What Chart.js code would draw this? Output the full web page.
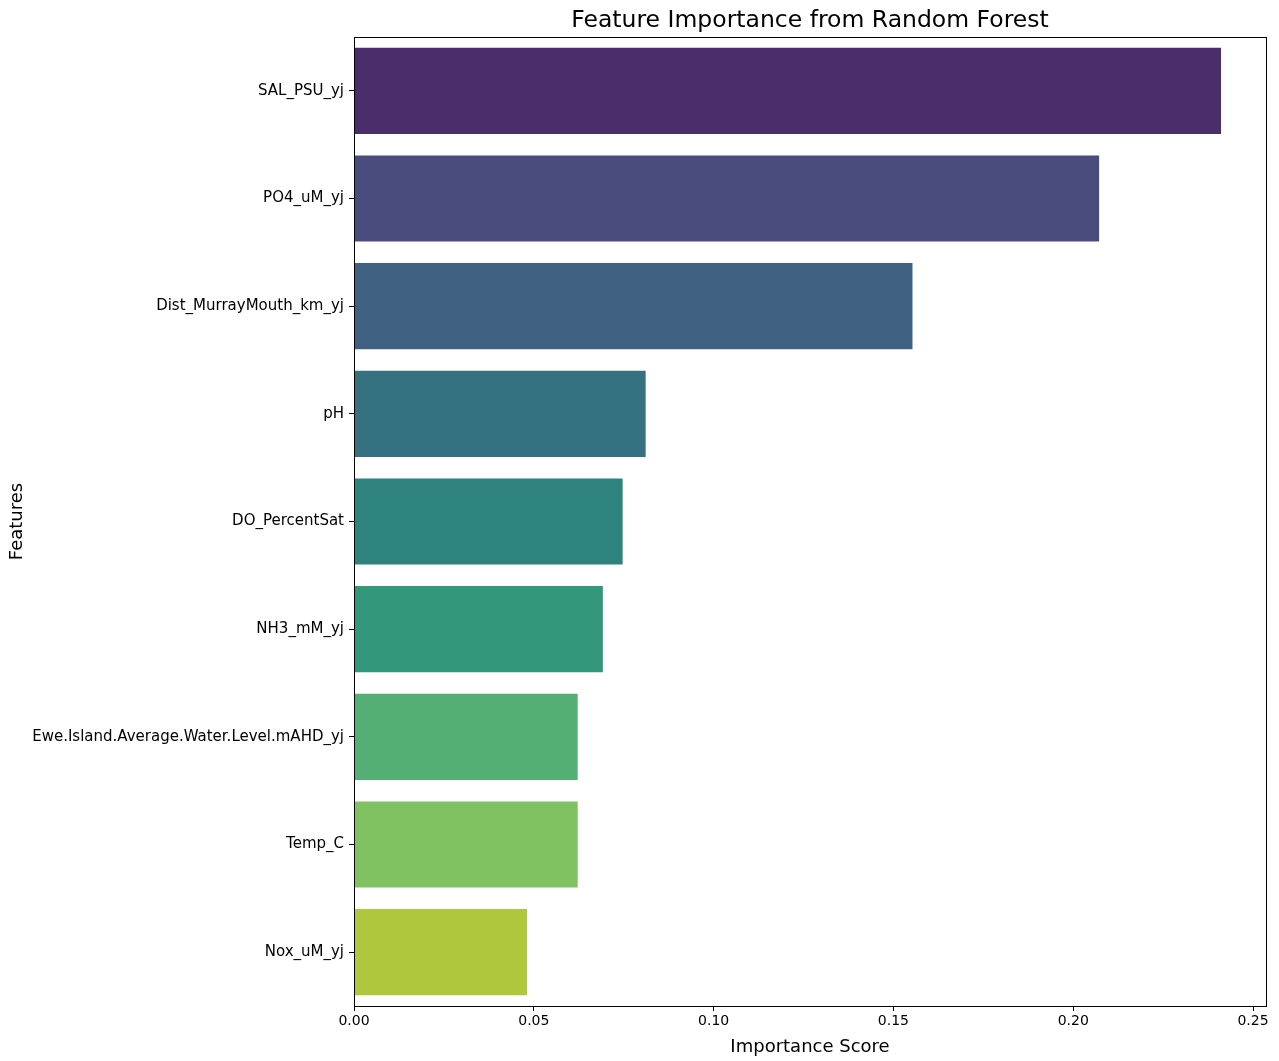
<!DOCTYPE html>
<html>
<head>
<meta charset="utf-8">
<title>Feature Importance</title>
<script src="https://cdn.jsdelivr.net/npm/chart.js@4"></script>
<style>
  html,body{margin:0;padding:0;background:#fff;}
  #wrap{width:1279px;height:1061px;}
</style>
</head>
<body>
<div id="wrap"><canvas id="chart" width="1279" height="1061"></canvas></div>
<script>
/* === DATA === */
const features = [
  "SAL_PSU_yj",
  "PO4_uM_yj",
  "Dist_MurrayMouth_km_yj",
  "pH",
  "DO_PercentSat",
  "NH3_mM_yj",
  "Ewe.Island.Average.Water.Level.mAHD_yj",
  "Temp_C",
  "Nox_uM_yj"
];
const importance = [0.2411, 0.2072, 0.1553, 0.0811, 0.0747, 0.0692, 0.0622, 0.0622, 0.0481];
const barColors = ["#492e6b","#4a4c7e","#406082","#367182","#2f837f","#33977c","#54af74","#80c161","#aec83d"];
const xTicks = [0, 0.05, 0.10, 0.15, 0.20, 0.25];

const FONT = "'DejaVu Sans', sans-serif";

/* === FRAME (all four spines) === */
const framePlugin = {
  id: "frame",
  afterDraw(chart){
    const a = chart.chartArea, ctx = chart.ctx;
    ctx.save();
    ctx.strokeStyle = "#000";
    ctx.lineWidth = 1;
    ctx.strokeRect(Math.round(a.left)+0.5, Math.round(a.top)+0.5,
                   Math.round(a.right-a.left), Math.round(a.bottom-a.top));
    ctx.restore();
  }
};

new Chart(document.getElementById("chart"), {
  type: "bar",
  data: {
    labels: features,
    datasets: [{
      data: importance,
      backgroundColor: barColors,
      borderWidth: 0,
      barPercentage: 0.8,
      categoryPercentage: 1.0
    }]
  },
  options: {
    indexAxis: "y",
    responsive: false,
    animation: false,
    layout: { padding: { left: 0, right: 13, top: 0, bottom: 0 } },
    plugins: {
      legend: { display: false },
      tooltip: { enabled: false }
    },
    scales: {
      x: {
        type: "linear",
        min: 0,
        max: 0.2536,
        afterBuildTicks(scale){ scale.ticks = xTicks.map(v => ({ value: v })); },
        afterFit(scale){ scale.height = 55; },
        grid: { drawOnChartArea: false, drawTicks: true, tickLength: 5, color: "#000" },
        border: { display: true, color: "#000" },
        ticks: {
          color: "#000",
          font: { family: FONT, size: 14 },
          padding: 2,
          callback: v => Number(v).toFixed(2)
        },
        title: {
          display: true,
          text: "Importance Score",
          color: "#000",
          font: { family: FONT, size: 18 },
          padding: { top: 0, bottom: 3 }
        }
      },
      // top axis only carries the chart title, so it centres over the plot area
      xTop: {
        type: "linear",
        position: "top",
        min: 0,
        max: 0.2536,
        afterFit(scale){ scale.height = 37; },
        grid: { display: false },
        border: { display: false },
        ticks: { display: false },
        title: {
          display: true,
          text: "Feature Importance from Random Forest",
          color: "#000",
          font: { family: FONT, size: 23.5 },
          padding: { top: 7, bottom: 2 }
        }
      },
      y: {
        afterFit(scale){ scale.width = 354; },
        grid: { drawOnChartArea: false, drawTicks: true, tickLength: 5, color: "#000", offset: false },
        border: { display: true, color: "#000" },
        ticks: {
          color: "#000",
          font: { family: FONT, size: 15 },
          padding: 5
        },
        title: {
          display: true,
          text: "Features",
          color: "#000",
          font: { family: FONT, size: 18 },
          padding: { top: 7, bottom: 4 }
        }
      }
    }
  },
  plugins: [framePlugin]
});
</script>
</body>
</html>
